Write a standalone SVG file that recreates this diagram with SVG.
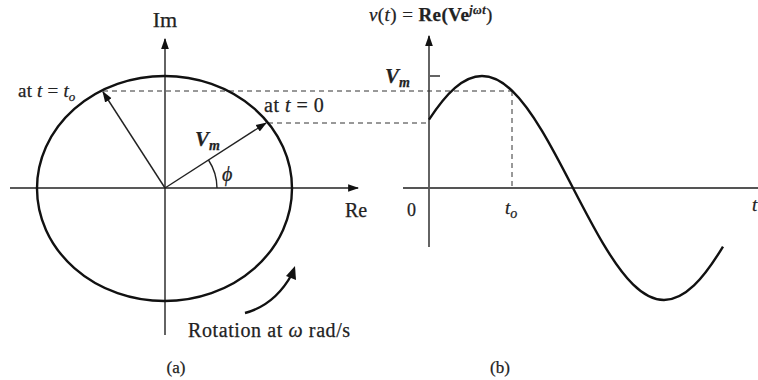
<svg xmlns="http://www.w3.org/2000/svg" width="758" height="380" viewBox="0 0 758 380">
<defs>
<marker id="ah" viewBox="0 0 10 10" refX="9" refY="5" markerWidth="11" markerHeight="11" markerUnits="userSpaceOnUse" orient="auto">
<path d="M0,1.5 L10,5 L0,8.5 z" fill="#111"/>
</marker>
<style>
.ax{stroke:#222;stroke-width:1.4;fill:none}
.th{stroke:#111;stroke-width:2.4;fill:none}
.ds{stroke:#333;stroke-width:1;stroke-dasharray:5,4;fill:none}
.vec{stroke:#222;stroke-width:1.4;fill:none}
text{font-family:'Liberation Serif','Times New Roman',serif;fill:#222;stroke:#222;stroke-width:0.25}
.it{font-style:italic}
.bd{font-weight:bold}
</style>
</defs>
<rect width="758" height="380" fill="#fff"/>
<g id="connectors">
<line class="ax" x1="10" y1="188" x2="358" y2="188" marker-end="url(#ah)"/>
<line class="ax" x1="165" y1="335" x2="165" y2="39" marker-end="url(#ah)"/>
<line class="ax" x1="429" y1="247" x2="429" y2="36" marker-end="url(#ah)"/>
<line x1="403" y1="188" x2="758" y2="188" stroke="#555" stroke-width="2"/>
<line class="ax" x1="430" y1="76" x2="440" y2="76"/>
<line class="ds" x1="103" y1="91" x2="512" y2="91"/>
<line class="ds" x1="268" y1="123" x2="429" y2="123"/>
<line class="ds" x1="512" y1="91" x2="512" y2="188"/>
<line class="vec" x1="165" y1="188" x2="266" y2="123" marker-end="url(#ah)"/>
<line class="vec" x1="165" y1="188" x2="103" y2="92" marker-end="url(#ah)"/>
<path class="vec" d="M217,188 A52,52 0 0 0 208.5,160"/>
<path class="th" d="M245,313 Q275,305 292,274" stroke-width="2"/>
<path d="M286,276 L295,266 L296,280 z" fill="#111"/>
</g>
<g id="circle">
<ellipse class="th" cx="164.5" cy="188.5" rx="127.5" ry="112.5"/>
</g>
<g id="sine">
<path class="th" d="M429,119.7 C437.67,106.4 446.33,95.4 455,87.9 C464,80.1 473,76 482,76 C492,76 502,81.1 512,90.7 C522,100.3 532,114.3 542,130.9 C552.33,148.1 562.67,168 573,188 C583,207.3 593,226.6 603,243.4 C613,260.2 623,274.5 633,284.4 C643.33,294.6 653.67,300 664,300 C674,300 684,294.9 694,285.4 C703.67,276.2 713.33,262.5 723,246.6"/>
</g>
<g id="labels" font-family="'Liberation Serif','Times New Roman',serif">
<text x="165" y="27" text-anchor="middle" font-size="22">Im</text>
<text x="345" y="217" font-size="20">Re</text>
<text x="18" y="97" font-size="19" letter-spacing="0.2">at <tspan class="it">t</tspan> = <tspan class="it">t</tspan><tspan class="it" font-size="13" dy="4">o</tspan></text>
<text x="264" y="112" font-size="20" letter-spacing="0.5">at <tspan class="it">t</tspan> = 0</text>
<text x="195" y="146" class="it bd" font-size="21">V<tspan font-size="14" dy="4">m</tspan></text>
<text x="222" y="181" class="it" font-size="20">ϕ</text>
<text x="188" y="337" font-size="20" letter-spacing="0.6">Rotation at <tspan class="it">ω</tspan> rad/s</text>
<text x="176" y="373" text-anchor="middle" font-size="17">(a)</text>
<text x="369" y="21" font-size="19" letter-spacing="0.4"><tspan class="it">v</tspan>(<tspan class="it">t</tspan>) = <tspan class="bd">Re(Ve</tspan><tspan class="it bd" font-size="12" dy="-7">jωt</tspan><tspan dy="7">)</tspan></text>
<text x="385" y="83" class="it bd" font-size="21">V<tspan font-size="14" dy="4">m</tspan></text>
<text x="407" y="216" font-size="18">0</text>
<text x="505" y="214" class="it" font-size="19">t<tspan font-size="14" dy="4">o</tspan></text>
<text x="752" y="211" class="it" font-size="19">t</text>
<text x="500" y="373" text-anchor="middle" font-size="17">(b)</text>
</g>
</svg>
